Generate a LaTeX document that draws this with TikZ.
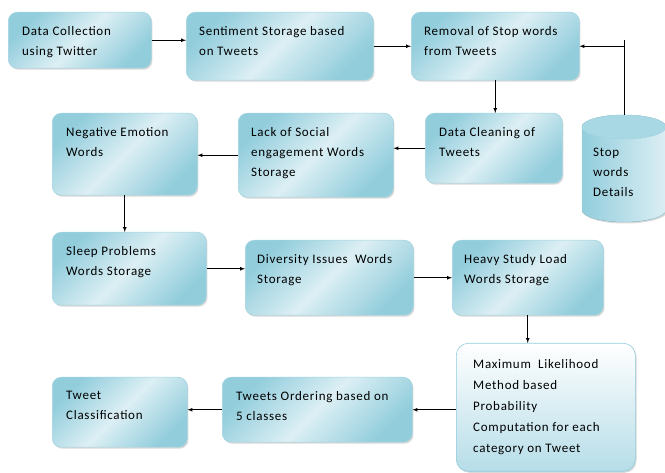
\documentclass[tikz,border=0pt]{standalone}
\usepackage{fontspec}
\setmainfont{Carlito}[LetterSpace=5.5]
\usetikzlibrary{shadows}
\definecolor{boxdark}{HTML}{92CDDC}
\definecolor{boxlight}{HTML}{DCEFF4}
\definecolor{boxline}{HTML}{A3D4E0}
\definecolor{probtop}{HTML}{FFFFFF}
\definecolor{probbot}{HTML}{B6DDE8}
\definecolor{cyltop}{HTML}{A8D8E4}

\begin{document}
\begin{tikzpicture}[x=1pt, y=-1pt,
  blok/.style={anchor=north west, rounded corners=9pt, draw=boxline, line width=0.5pt,
    top color=boxdark, bottom color=boxdark, middle color=boxlight, shading angle=45,
    drop shadow={shadow xshift=1.2pt, shadow yshift=-1.5pt, opacity=0.3}},
  txt/.style={anchor=north west, inner sep=0pt, align=left, font=\fontsize{13}{20}\selectfont},
  arr/.style={-latex, line width=0.7pt}]

\useasboundingbox (0,0) rectangle (665,473);

% Linha 1
\node[blok, minimum width=143pt, minimum height=56pt] (dc) at (8,12) {};
\node[txt] (dct) at ([shift={(14,14)}]dc.north west) {Data Collection\\using Twitter};
\node[blok, minimum width=187pt, minimum height=68pt] (ss) at (186,12) {};
\node[txt] (sst) at ([shift={(13,14)}]ss.north west) {Sentiment Storage based\\on Tweets};
\node[blok, minimum width=168pt, minimum height=68pt] (rs) at (411,12) {};
\node[txt] (rst) at ([shift={(13,14)}]rs.north west) {Removal of Stop words\\from Tweets};

% Banco de stop words
\fill[left color=boxdark, right color=boxlight, draw=boxline, line width=0.5pt,
  drop shadow={shadow xshift=1.2pt, shadow yshift=-1.5pt, opacity=0.3}]
  (582,127) -- (582,210) arc[start angle=180, end angle=0, x radius=42, y radius=12]
  -- (666,127) arc[start angle=0, end angle=-180, x radius=42, y radius=12] -- cycle;
\filldraw[fill=cyltop, draw=boxline, line width=0.5pt] (624,127) ellipse[x radius=42, y radius=12];
\coordinate (swtop) at (624,115);
\node[txt] (swt) at (593,148) {Stop\\words\\Details};

% Linha 2
\node[blok, minimum width=137pt, minimum height=70pt] (cl) at (425,113) {};
\node[txt] (clt) at ([shift={(14,14)}]cl.north west) {Data Cleaning of\\Tweets};
\node[blok, minimum width=155pt, minimum height=84pt] (ls) at (238,113) {};
\node[txt] (lst) at ([shift={(13,14)}]ls.north west) {Lack of Social\\engagement Words\\Storage};
\node[blok, minimum width=145pt, minimum height=82pt] (ne) at (52,113) {};
\node[txt] (net) at ([shift={(14,14)}]ne.north west) {Negative Emotion\\Words};

% Linha 3
\node[blok, minimum width=154pt, minimum height=73pt] (sp) at (52,232) {};
\node[txt] (spt) at ([shift={(14,14)}]sp.north west) {Sleep Problems\\Words Storage};
\node[blok, minimum width=168pt, minimum height=75pt] (dv) at (245,240) {};
\node[txt] (dvt) at ([shift={(12,14)}]dv.north west) {Diversity Issues\ \ Words\\Storage};
\node[blok, minimum width=151pt, minimum height=75pt] (hs) at (452,240) {};
\node[txt] (hst) at ([shift={(12,14)}]hs.north west) {Heavy Study Load\\Words Storage};

% Linha 4
\node[anchor=north west, rounded corners=12pt, draw=boxdark, line width=0.6pt,
  top color=probtop, bottom color=probbot, minimum width=179pt, minimum height=128pt,
  drop shadow={shadow xshift=1.2pt, shadow yshift=-1.5pt, opacity=0.3}] (ml) at (456,343) {};
\node[txt, font=\fontsize{13}{21}\selectfont] (mlt) at ([shift={(17,16)}]ml.north west)
  {Maximum\ \ Likelihood\\Method based\\Probability\\Computation for each\\category on Tweet};
\node[blok, minimum width=190pt, minimum height=65pt] (to) at (222,377) {};
\node[txt] (tot) at ([shift={(14,14)}]to.north west) {Tweets Ordering based on\\5 classes};
\node[blok, minimum width=135pt, minimum height=70pt] (tc) at (52,377) {};
\node[txt] (tct) at ([shift={(14,14)}]tc.north west) {Tweet\\Classification};

% Setas
\draw[arr] (dc.east) -- (dc.east -| ss.west);
\draw[arr] (ss) -- (rs);
\coordinate (jt) at (624,40);
\draw[line width=0.7pt] (swtop) -- (jt);
\draw[arr] (swtop |- rs.east) -- (rs.east);
\draw[arr] (rs.south) -- (rs.south |- cl.north);
\draw[arr] (cl.west) -- (cl.west -| ls.east);
\draw[arr] (ls.west) -- (ls.west -| ne.east);
\draw[arr] (ne.south) -- (ne.south |- sp.north);
\draw[arr] (sp.east) -- (sp.east -| dv.west);
\draw[arr] (dv) -- (hs);
\draw[arr] (hs.south) -- (hs.south |- ml.north);
\draw[arr] (to.east -| ml.west) -- (to.east);
\draw[arr] (to.west) -- (to.west -| tc.east);

\end{tikzpicture}
\end{document}
